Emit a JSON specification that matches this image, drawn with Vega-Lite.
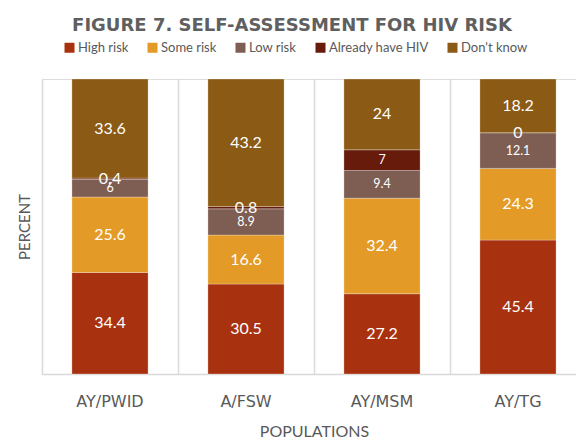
{
  "$schema": "https://vega.github.io/schema/vega-lite/v6.json",
  "width": 534,
  "height": 295,
  "autosize": {"type": "none"},
  "padding": {"left": 42, "top": 79, "right": 0, "bottom": 65},
  "background": "white",
  "title": {
    "text": "FIGURE 7. SELF-ASSESSMENT FOR HIV RISK",
    "font": "DejaVu Sans",
    "fontSize": 18,
    "fontWeight": "bold",
    "color": "#5f5f5f",
    "anchor": "middle",
    "dx": -17,
    "offset": 6
  },
  "data": {
    "values": [
      {"pop": "AY/PWID", "risk": "High risk", "value": 34.4},
      {"pop": "AY/PWID", "risk": "Some risk", "value": 25.6},
      {"pop": "AY/PWID", "risk": "Low risk", "value": 6},
      {"pop": "AY/PWID", "risk": "Already have HIV", "value": 0.4},
      {"pop": "AY/PWID", "risk": "Don't know", "value": 33.6},
      {"pop": "A/FSW", "risk": "High risk", "value": 30.5},
      {"pop": "A/FSW", "risk": "Some risk", "value": 16.6},
      {"pop": "A/FSW", "risk": "Low risk", "value": 8.9},
      {"pop": "A/FSW", "risk": "Already have HIV", "value": 0.8},
      {"pop": "A/FSW", "risk": "Don't know", "value": 43.2},
      {"pop": "AY/MSM", "risk": "High risk", "value": 27.2},
      {"pop": "AY/MSM", "risk": "Some risk", "value": 32.4},
      {"pop": "AY/MSM", "risk": "Low risk", "value": 9.4},
      {"pop": "AY/MSM", "risk": "Already have HIV", "value": 7},
      {"pop": "AY/MSM", "risk": "Don't know", "value": 24},
      {"pop": "AY/TG", "risk": "High risk", "value": 45.4},
      {"pop": "AY/TG", "risk": "Some risk", "value": 24.3},
      {"pop": "AY/TG", "risk": "Low risk", "value": 12.1},
      {"pop": "AY/TG", "risk": "Already have HIV", "value": 0},
      {"pop": "AY/TG", "risk": "Don't know", "value": 18.2}
    ]
  },
  "transform": [
    {"calculate": "indexof(['High risk','Some risk','Low risk','Already have HIV',\"Don't know\"], datum.risk)", "as": "ord"},
    {"stack": "value", "groupby": ["pop"], "sort": [{"field": "ord", "order": "ascending"}], "as": ["v0", "v1"]},
    {"calculate": "(datum.v0 + datum.v1) / 2", "as": "vmid"}
  ],
  "encoding": {
    "x": {
      "field": "pop",
      "type": "nominal",
      "sort": ["AY/PWID", "A/FSW", "AY/MSM", "AY/TG"],
      "scale": {"paddingInner": 0, "paddingOuter": 0, "range": [0, 544]},
      "axis": {
        "title": "POPULATIONS",
        "titleFont": "Lato",
        "titleFontSize": 16,
        "titleFontWeight": "normal",
        "titleColor": "#595959",
        "titlePadding": 49,
        "labels": false,
        "ticks": false,
        "domain": true,
        "domainColor": "#d9d9d9",
        "domainWidth": 1.5,
        "grid": true,
        "gridColor": "#d9d9d9",
        "gridWidth": 1.5,
        "bandPosition": 0
      }
    }
  },
  "layer": [
    {
      "mark": {"type": "bar", "width": {"band": 0.56}, "stroke": "#ffffff", "strokeOpacity": 0.35, "strokeWidth": 0.8},
      "encoding": {
        "y": {
          "field": "v0",
          "type": "quantitative",
          "scale": {"domain": [0, 100], "nice": false},
          "axis": {
            "title": "PERCENT",
            "titleFont": "Lato",
            "titleFontSize": 15,
            "titleFontWeight": "normal",
            "titleColor": "#595959",
            "titlePadding": 10,
            "labels": false,
            "ticks": false,
            "domain": false,
            "grid": false
          }
        },
        "y2": {"field": "v1"},
        "color": {
          "field": "risk",
          "type": "nominal",
          "sort": ["High risk", "Some risk", "Low risk", "Already have HIV", "Don't know"],
          "scale": {
            "domain": ["High risk", "Some risk", "Low risk", "Already have HIV", "Don't know"],
            "range": ["#A8320F", "#E39A27", "#7E5E52", "#661B0B", "#8B5A14"]
          },
          "legend": {
            "title": null,
            "orient": "none",
            "direction": "horizontal",
            "columns": 5,
            "legendX": 21,
            "legendY": -38,
            "padding": 0,
            "symbolType": "square",
            "symbolSize": 100,
            "symbolStrokeWidth": 0,
            "labelFont": "Lato",
            "labelFontSize": 13,
            "labelColor": "#595959",
            "labelOffset": 2,
            "columnPadding": 17
          }
        }
      }
    },
    {
      "mark": {"type": "text", "font": "Lato", "color": "white", "baseline": "middle", "align": "center"},
      "encoding": {
        "y": {"field": "vmid", "type": "quantitative"},
        "text": {"field": "value", "type": "nominal"},
        "size": {
          "condition": {"test": "datum.value >= 5 && datum.value < 13", "value": 12.5},
          "value": 16
        }
      }
    },
    {
      "transform": [{"filter": "datum.risk === 'High risk'"}],
      "mark": {"type": "text", "font": "DejaVu Sans", "fontSize": 16, "color": "#595959", "baseline": "middle", "align": "center", "dy": 28},
      "encoding": {
        "y": {"datum": 0, "type": "quantitative"},
        "text": {"field": "pop", "type": "nominal"}
      }
    }
  ]
}
